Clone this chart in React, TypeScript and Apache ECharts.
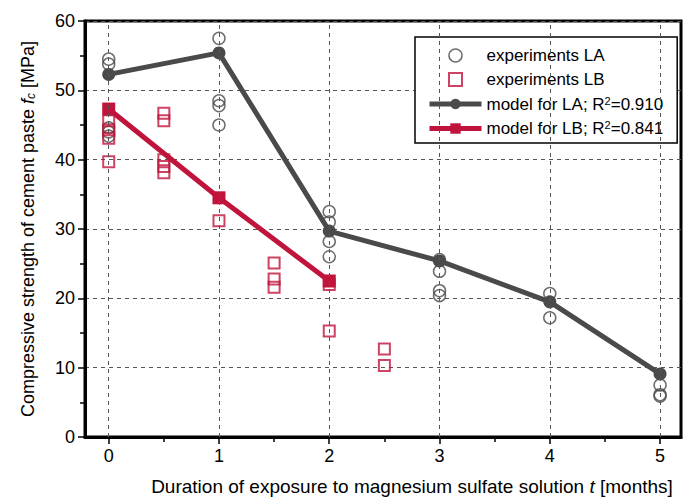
import React, { useEffect, useRef } from "react";
import * as echarts from "echarts";

const laExpT = [0, 0, 0, 0, 0, 1, 1, 1, 1, 2, 2, 2, 2, 3, 3, 3, 3, 4, 4, 5, 5, 5];
const laExpFc = [54.5, 53.8, 44.6, 44.0, 43.4, 57.5, 48.5, 47.8, 45.0, 32.5, 31.0, 28.2, 26.0, 25.6, 23.9, 21.1, 20.4, 20.7, 17.2, 7.5, 6.1, 5.9];

const lbExpT = [0, 0, 0, 0, 0.5, 0.5, 0.5, 0.5, 0.5, 1, 1.5, 1.5, 1.5, 2, 2, 2.5, 2.5];
const lbExpFc = [45.6, 44.3, 43.1, 39.7, 46.7, 45.6, 40.0, 39.0, 38.1, 31.2, 25.1, 22.8, 21.6, 22.0, 15.3, 12.7, 10.3];

const modelLAT = [0, 1, 2, 3, 4, 5];
const modelLAFc = [52.3, 55.4, 29.7, 25.4, 19.5, 9.1];
const modelLBT = [0, 1, 2];
const modelLBFc = [47.3, 34.5, 22.5];

const majorXTicks = [0, 1, 2, 3, 4, 5];
const minorXTicks = [0.5, 1.5, 2.5, 3.5, 4.5];

const GRAY = "#4a4a4a";
const RED = "#c0143c";
const FONT = "Liberation Sans";
const SQUARE = "path://M0,0L10,0L10,10L0,10Z";

const zip = (a: number[], b: number[]) => a.map((v, i) => [v, b[i]]);

export default function App() {
  const ref = useRef<HTMLDivElement>(null);
  useEffect(() => {
    document.body.style.margin = "0";
    document.body.style.overflow = "hidden";
    document.documentElement.style.overflow = "hidden";
    if (!ref.current) return;
    const chart = echarts.init(ref.current, undefined, { renderer: "svg" });
    const legendNames: Record<string, string> = {
      "experiments LA": "{t|experiments LA}",
      "experiments LB": "{t|experiments LB}",
      "model for LA": "{t|model for LA; R}{s|2}{t|=0.910}",
      "model for LB": "{t|model for LB; R}{s|2}{t|=0.841}",
    };
    chart.setOption({
      animation: false,
      textStyle: { fontFamily: FONT },
      grid: {
        left: 85,
        top: 21,
        right: 2,
        bottom: 61,
        show: true,
        borderColor: "#000",
        borderWidth: 3,
      },
      legend: {
        orient: "vertical",
        left: 415,
        top: 37,
        padding: [10, 14, 6, 12],
        itemGap: 7,
        itemWidth: 52,
        itemHeight: 13,
        borderColor: "#000",
        borderWidth: 1.5,
        backgroundColor: "#fff",
        data: [
          { name: "experiments LA", icon: "circle", itemStyle: { color: "#fff", borderColor: GRAY, borderWidth: 1.5 } },
          { name: "experiments LB", icon: SQUARE, itemStyle: { color: "#fff", borderColor: RED, borderWidth: 2 } },
          { name: "model for LA", lineStyle: { width: 5, color: GRAY } },
          { name: "model for LB", lineStyle: { width: 5, color: RED } },
        ],
        formatter: (name: string) => legendNames[name],
        textStyle: {
          fontFamily: FONT,
          rich: {
            t: { fontSize: 17, color: "#000", fontFamily: FONT, lineHeight: 18 },
            s: { fontSize: 11, color: "#000", fontFamily: FONT, verticalAlign: "top", lineHeight: 11 },
          },
        },
      },
      xAxis: [
        {
          type: "value",
          min: -0.215,
          max: 5.19,
          name: "{n|Duration of exposure to magnesium sulfate solution }{i|t}{n| [months]}",
          nameLocation: "middle",
          nameGap: 40,
          nameTextStyle: {
            padding: [0, 0, 0, 58],
            rich: {
              n: { fontSize: 19, color: "#000", fontFamily: FONT },
              i: { fontSize: 19, color: "#000", fontFamily: FONT, fontStyle: "italic" },
            },
          },
          axisLine: { show: true, onZero: false, lineStyle: { color: "#000", width: 3 } },
          axisTick: { show: true, customValues: majorXTicks, length: 7, lineStyle: { color: "#000", width: 1.5 } },
          axisLabel: { customValues: majorXTicks, fontSize: 18, color: "#000", margin: 10, fontFamily: FONT },
          splitLine: { show: false },
        },
        {
          type: "value",
          min: -0.215,
          max: 5.19,
          position: "bottom",
          axisLine: { show: false, onZero: false },
          axisTick: { show: true, customValues: minorXTicks, length: 5, lineStyle: { color: "#000", width: 1.5 } },
          axisLabel: { show: false },
          splitLine: { show: false },
        },
      ],
      yAxis: {
        type: "value",
        min: 0,
        max: 60,
        interval: 10,
        name: "{n|Compressive strength of cement paste }{i|f}{s|c}{n| [MPa]}",
        nameLocation: "middle",
        nameGap: 48,
        nameTextStyle: {
          rich: {
            n: { fontSize: 18, color: "#000", fontFamily: FONT },
            i: { fontSize: 18, color: "#000", fontFamily: FONT, fontStyle: "italic" },
            s: { fontSize: 12, color: "#000", fontFamily: FONT, fontStyle: "italic", verticalAlign: "bottom" },
          },
        },
        axisLine: { show: true, onZero: false, lineStyle: { color: "#000", width: 3 } },
        axisTick: { show: true, length: 7, lineStyle: { color: "#000", width: 1.5 } },
        minorTick: { show: true, splitNumber: 2, length: 5, lineStyle: { color: "#000", width: 1.5 } },
        axisLabel: { fontSize: 18, color: "#000", margin: 10, fontFamily: FONT },
        splitLine: { show: true, lineStyle: { color: "#555", width: 1, type: [4, 4] } },
      },
      series: [
        {
          name: "experiments LA",
          type: "scatter",
          data: zip(laExpT, laExpFc),
          symbol: "circle",
          symbolSize: 12,
          itemStyle: { color: "rgba(255,255,255,0)", borderColor: GRAY, borderWidth: 1.5 },
          markLine: {
            silent: true,
            symbol: "none",
            label: { show: false },
            lineStyle: { color: "#555", width: 1, type: [4, 4] },
            data: majorXTicks.map((v) => ({ xAxis: v })),
          },
          z: 2,
        },
        {
          name: "experiments LB",
          type: "scatter",
          data: zip(lbExpT, lbExpFc),
          symbol: "rect",
          symbolSize: 11,
          itemStyle: { color: "rgba(255,255,255,0)", borderColor: RED, borderWidth: 2 },
          z: 2,
        },
        {
          name: "model for LA",
          type: "line",
          data: zip(modelLAT, modelLAFc),
          symbol: "circle",
          symbolSize: 13,
          lineStyle: { color: GRAY, width: 5 },
          itemStyle: { color: GRAY },
          z: 3,
        },
        {
          name: "model for LB",
          type: "line",
          data: zip(modelLBT, modelLBFc),
          symbol: "rect",
          symbolSize: 13,
          lineStyle: { color: RED, width: 5 },
          itemStyle: { color: RED },
          z: 3,
        },
      ],
    });
    return () => chart.dispose();
  }, []);
  return <div ref={ref} style={{ width: 683, height: 501, background: "#fff", overflow: "hidden" }} />;
}
